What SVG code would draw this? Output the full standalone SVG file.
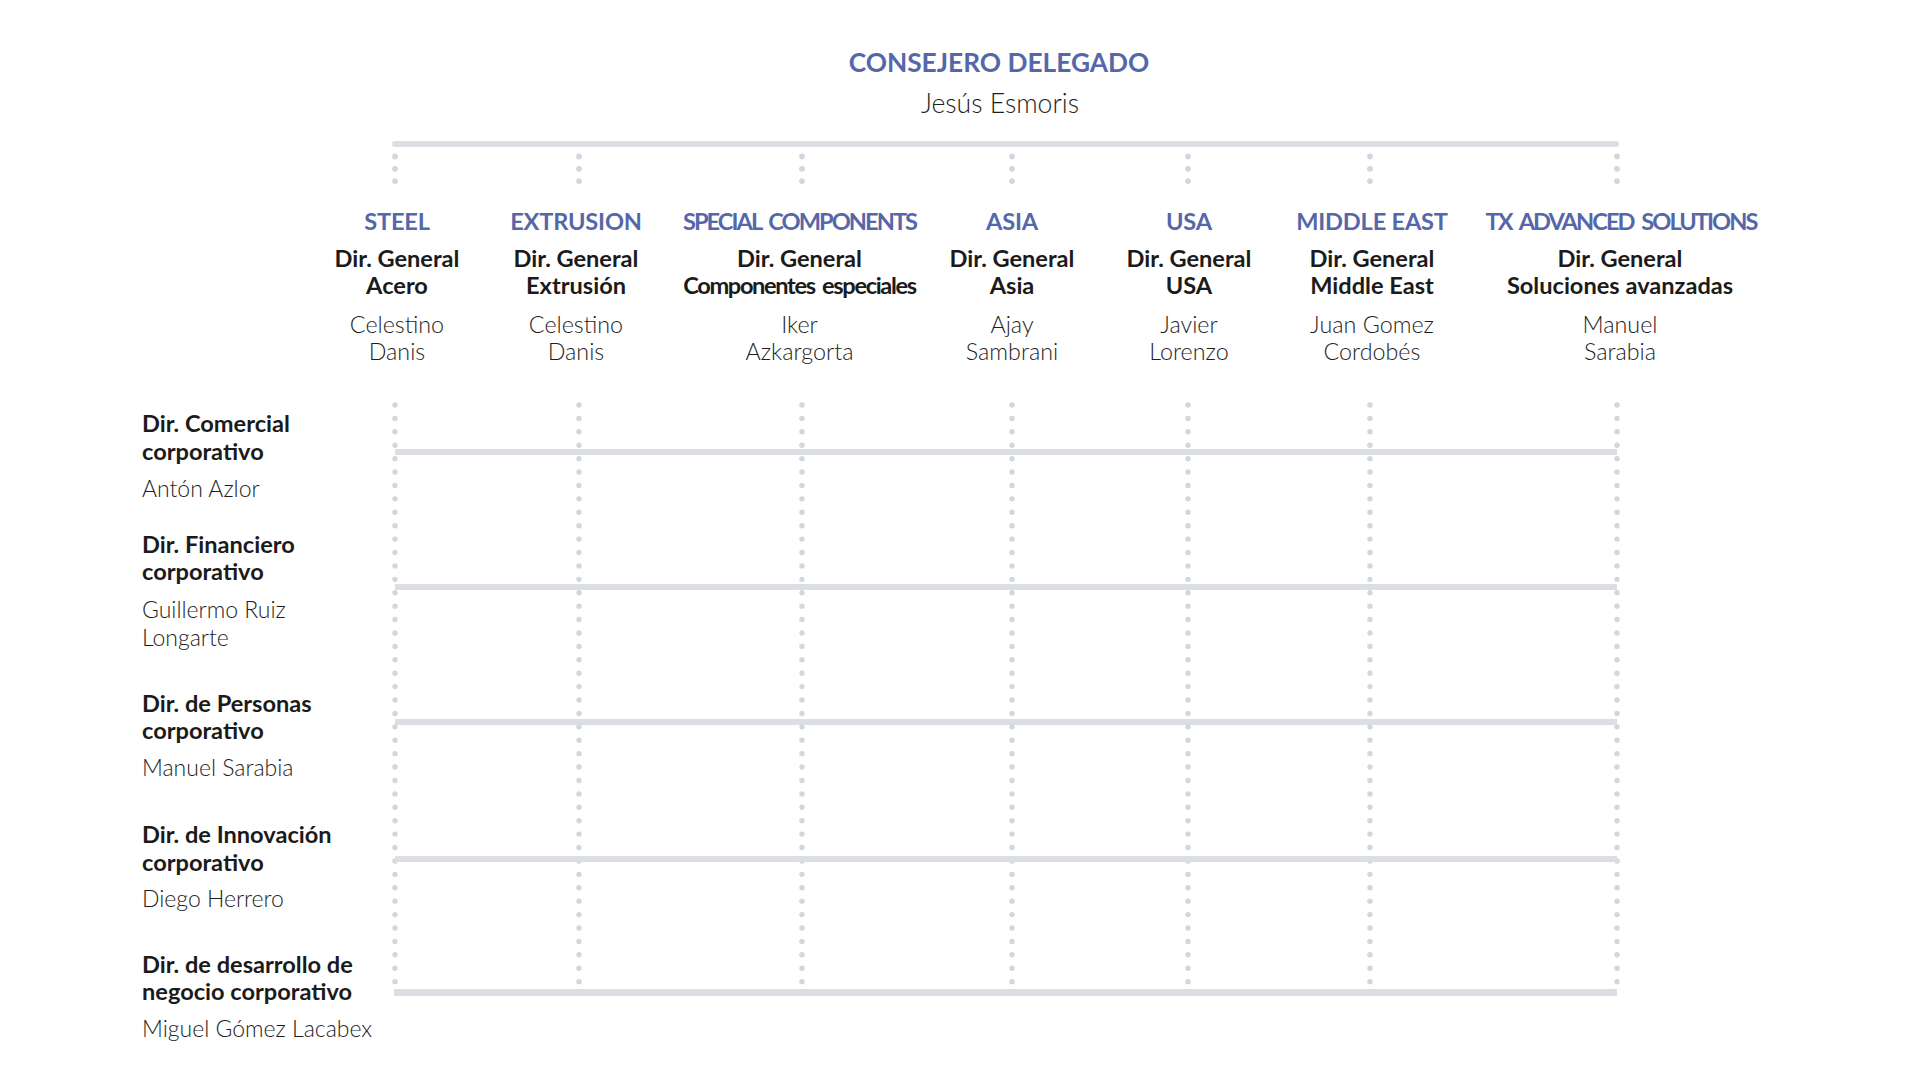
<svg xmlns="http://www.w3.org/2000/svg" width="1920" height="1074" viewBox="0 0 1920 1074">
<style>
text{font-family:Lato,"Noto Sans","Liberation Sans",sans-serif}
.title{font-size:26.3px;font-weight:700;fill:#5567a9;text-anchor:middle}
.sub{font-size:26.6px;font-weight:300;fill:#1e1e1e;text-anchor:middle}
.hd{font-size:23.6px;font-weight:700;fill:#5567a9;text-anchor:middle;letter-spacing:-0.2px}
.hd.tight{letter-spacing:-1.95px;word-spacing:4px}
.role{font-size:23.6px;font-weight:700;fill:#1b1b1b;text-anchor:middle}
.role.tight{letter-spacing:-1.35px;word-spacing:3px}
.nm{font-size:23.3px;font-weight:300;fill:#1e1e1e;text-anchor:middle}
.rrole{font-size:23.6px;font-weight:700;fill:#1b1b1b}
.rnm{font-size:23px;font-weight:300;fill:#1e1e1e}
.bar{fill:#dbdee2}
.dots{stroke:#d3d6da;stroke-width:5.4;stroke-linecap:round;fill:none}
</style>
<defs>
<g id="topdots"><circle cx="0" cy="156.5" r="2.9"/><circle cx="0" cy="168.8" r="2.9"/><circle cx="0" cy="181.1" r="2.9"/></g>
</defs>
<g id="ceo">
<text class="title" x="999" y="72">CONSEJERO DELEGADO</text>
<text class="sub" x="1000" y="113">Jesús Esmoris</text>
</g>
<g id="connectors">
<rect class="bar" x="392" y="141" width="1227" height="6" rx="3"/>
<g fill="#d3d6da">
<use href="#topdots" x="395"/><use href="#topdots" x="579"/><use href="#topdots" x="802"/><use href="#topdots" x="1012"/><use href="#topdots" x="1188"/><use href="#topdots" x="1370"/><use href="#topdots" x="1617"/>
</g>
<g class="dots" stroke-dasharray="0 13.41">
<line x1="395" y1="405" x2="395" y2="982"/>
<line x1="579" y1="405" x2="579" y2="982"/>
<line x1="802" y1="405" x2="802" y2="982"/>
<line x1="1012" y1="405" x2="1012" y2="982"/>
<line x1="1188" y1="405" x2="1188" y2="982"/>
<line x1="1370" y1="405" x2="1370" y2="982"/>
<line x1="1617" y1="405" x2="1617" y2="982"/>
</g>
<rect class="bar" x="395" y="449" width="1222" height="6"/>
<rect class="bar" x="395" y="584" width="1222" height="6"/>
<rect class="bar" x="395" y="719" width="1222" height="6"/>
<rect class="bar" x="395" y="856" width="1222" height="6"/>
<rect class="bar" x="394" y="989" width="1223" height="7"/>
</g>
<g id="steel">
<text class="hd" x="397" y="230">STEEL</text>
<text class="role" x="397" y="267">Dir. General</text>
<text class="role" x="397" y="294">Acero</text>
<text class="nm" x="397" y="333">Celestino</text>
<text class="nm" x="397" y="360">Danis</text>
</g>
<g id="extrusion">
<text class="hd" x="576" y="230">EXTRUSION</text>
<text class="role" x="576" y="267">Dir. General</text>
<text class="role" x="576" y="294">Extrusión</text>
<text class="nm" x="576" y="333">Celestino</text>
<text class="nm" x="576" y="360">Danis</text>
</g>
<g id="special-components">
<text class="hd tight" x="799.5" y="230">SPECIAL COMPONENTS</text>
<text class="role" x="799.5" y="267">Dir. General</text>
<text class="role tight" x="799.5" y="294">Componentes especiales</text>
<text class="nm" x="799.5" y="333">Iker</text>
<text class="nm" x="799.5" y="360">Azkargorta</text>
</g>
<g id="asia">
<text class="hd" x="1012" y="230">ASIA</text>
<text class="role" x="1012" y="267">Dir. General</text>
<text class="role" x="1012" y="294">Asia</text>
<text class="nm" x="1012" y="333">Ajay</text>
<text class="nm" x="1012" y="360">Sambrani</text>
</g>
<g id="usa">
<text class="hd" x="1189" y="230">USA</text>
<text class="role" x="1189" y="267">Dir. General</text>
<text class="role" x="1189" y="294">USA</text>
<text class="nm" x="1189" y="333">Javier</text>
<text class="nm" x="1189" y="360">Lorenzo</text>
</g>
<g id="middle-east">
<text class="hd" x="1372" y="230">MIDDLE EAST</text>
<text class="role" x="1372" y="267">Dir. General</text>
<text class="role" x="1372" y="294">Middle East</text>
<text class="nm" x="1372" y="333">Juan Gomez</text>
<text class="nm" x="1372" y="360">Cordobés</text>
</g>
<g id="tx-advanced-solutions">
<text class="hd tight" x="1621" y="230">TX ADVANCED SOLUTIONS</text>
<text class="role" x="1620" y="267">Dir. General</text>
<text class="role" x="1620" y="294">Soluciones avanzadas</text>
<text class="nm" x="1620" y="333">Manuel</text>
<text class="nm" x="1620" y="360">Sarabia</text>
</g>
<g id="dir-comercial">
<text class="rrole" x="142" y="432">Dir. Comercial</text>
<text class="rrole" x="142" y="460">corporativo</text>
<text class="rnm" x="142" y="497">Antón Azlor</text>
</g>
<g id="dir-financiero">
<text class="rrole" x="142" y="553">Dir. Financiero</text>
<text class="rrole" x="142" y="580">corporativo</text>
<text class="rnm" x="142" y="618">Guillermo Ruiz</text>
<text class="rnm" x="142" y="646">Longarte</text>
</g>
<g id="dir-personas">
<text class="rrole" x="142" y="712">Dir. de Personas</text>
<text class="rrole" x="142" y="739">corporativo</text>
<text class="rnm" x="142" y="776">Manuel Sarabia</text>
</g>
<g id="dir-innovacion">
<text class="rrole" x="142" y="843">Dir. de Innovación</text>
<text class="rrole" x="142" y="871">corporativo</text>
<text class="rnm" x="142" y="907">Diego Herrero</text>
</g>
<g id="dir-desarrollo">
<text class="rrole" x="142" y="973">Dir. de desarrollo de</text>
<text class="rrole" x="142" y="1000">negocio corporativo</text>
<text class="rnm" x="142" y="1037">Miguel Gómez Lacabex</text>
</g>
</svg>
